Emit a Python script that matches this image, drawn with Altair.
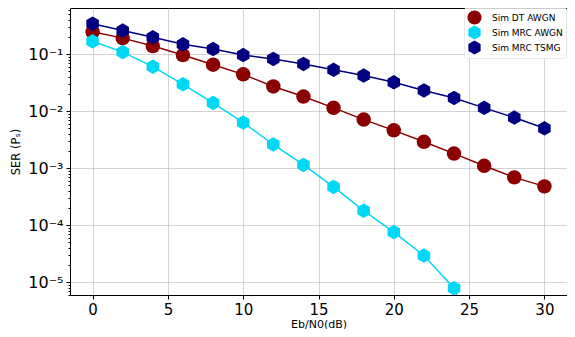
import altair as alt
import pandas as pd

snr = [0, 2, 4, 6, 8, 10, 12, 14, 16, 18, 20, 22, 24, 26, 28, 30]
ser_dt_awgn = [0.245, 0.19, 0.138, 0.096, 0.065, 0.044, 0.027, 0.018, 0.0114,
               0.0071, 0.0046, 0.0029, 0.0018, 0.0011, 0.00069, 0.00048]
snr_mrc = [0, 2, 4, 6, 8, 10, 12, 14, 16, 18, 20, 22, 24, 26]
ser_mrc_awgn = [0.167, 0.108, 0.06, 0.0294, 0.0139, 0.0063, 0.0026, 0.00114,
                0.00047, 0.00018, 7.6e-5, 2.95e-5, 7.9e-6, 4e-7]
ser_mrc_tsmg = [0.34, 0.258, 0.196, 0.148, 0.122, 0.096, 0.082, 0.067, 0.053,
                0.042, 0.032, 0.023, 0.017, 0.0114, 0.0077, 0.005]

series_names = ["Sim DT AWGN", "Sim MRC AWGN", "Sim MRC TSMG"]
series_colors = ["#8b0000", "#00d8f5", "#000080"]
hexagon = "M0,-1 L0.866,-0.5 L0.866,0.5 L0,1 L-0.866,0.5 L-0.866,-0.5 Z"
series_shapes = ["circle", hexagon, hexagon]

rows = []
for x, y in zip(snr, ser_dt_awgn):
    rows.append({"snr": x, "ser": y, "series": series_names[0]})
for x, y in zip(snr_mrc, ser_mrc_awgn):
    rows.append({"snr": x, "ser": y, "series": series_names[1]})
for x, y in zip(snr, ser_mrc_tsmg):
    rows.append({"snr": x, "ser": y, "series": series_names[2]})
df = pd.DataFrame(rows)

y_ticks = []
for e in range(-6, 0):
    for m in range(1, 10):
        v = m * 10 ** e
        if 6e-6 <= v <= 0.64:
            y_ticks.append(v)

is_decade = "abs(log(datum.value)/LN10 - round(log(datum.value)/LN10)) < 1e-6"
label_expr = ("(" + is_decade + ") ? ('10⁻' + ['⁰','¹','²','³','⁴','⁵','⁶'][-round(log(datum.value)/LN10)]) : ''")

x_enc = alt.X("snr:Q", scale=alt.Scale(domain=[-1.5, 31.5], nice=False, zero=False),
              axis=alt.Axis(values=[0, 5, 10, 15, 20, 25, 30], title="Eb/N0(dB)",
                            labelFontSize=15, titleFontSize=11, titleFontWeight="normal",
                            labelPadding=3, titlePadding=1, tickSize=4,
                            gridColor="#b0b0b0", gridOpacity=0.7, gridWidth=0.8,
                            domain=False, tickColor="black", labelColor="black",
                            titleColor="black"))
y_enc = alt.Y("ser:Q", scale=alt.Scale(type="log", domain=[6e-6, 0.64], nice=False),
              axis=alt.Axis(values=y_ticks, labelExpr=label_expr, title="SER (Pₛ)",
                            labelFontSize=16, titleFontSize=11.5, titleFontWeight="normal",
                            labelOverlap=False, labelFlush=False, labelPadding=3,
                            titlePadding=6,
                            tickSize={"condition": {"test": is_decade, "value": 4}, "value": 2},
                            gridOpacity={"condition": {"test": is_decade, "value": 0.7}, "value": 0},
                            gridColor="#b0b0b0", gridWidth=0.8,
                            domain=False, tickColor="black", labelColor="black",
                            titleColor="black"))

color_scale = alt.Scale(domain=series_names, range=series_colors)
shape_scale = alt.Scale(domain=series_names, range=series_shapes)

legend = alt.Legend(title=None, orient="none", legendX=394, legendY=-1,
                    labelFontSize=9, symbolSize=200, rowPadding=-3,
                    labelOffset=10, padding=3, symbolStrokeWidth=0,
                    fillColor="rgba(255,255,255,0.8)",
                    strokeColor="#e8e8e8", cornerRadius=3)

lines = alt.Chart(df).mark_line(strokeWidth=1.5, clip=True).encode(
    x=x_enc, y=y_enc,
    color=alt.Color("series:N", scale=color_scale, sort=series_names, legend=legend),
)

points = alt.Chart(df).mark_point(filled=True, opacity=1, size=210, clip=True).encode(
    x=x_enc, y=y_enc,
    color=alt.Color("series:N", scale=color_scale, sort=series_names, legend=legend),
    shape=alt.Shape("series:N", scale=shape_scale, sort=series_names, legend=legend),
)

chart = (lines + points).properties(
    width=497, height=287,
    autosize=alt.AutoSizeParams(type="none"),
    padding={"left": 62, "top": 0, "right": 0, "bottom": 34},
).configure(font="DejaVu Sans").configure_view(
    stroke="black", strokeWidth=1
).configure_legend(labelFont="DejaVu Sans", labelColor="black")

chart.save("out.html", embed_options={"renderer": "svg", "actions": False})
